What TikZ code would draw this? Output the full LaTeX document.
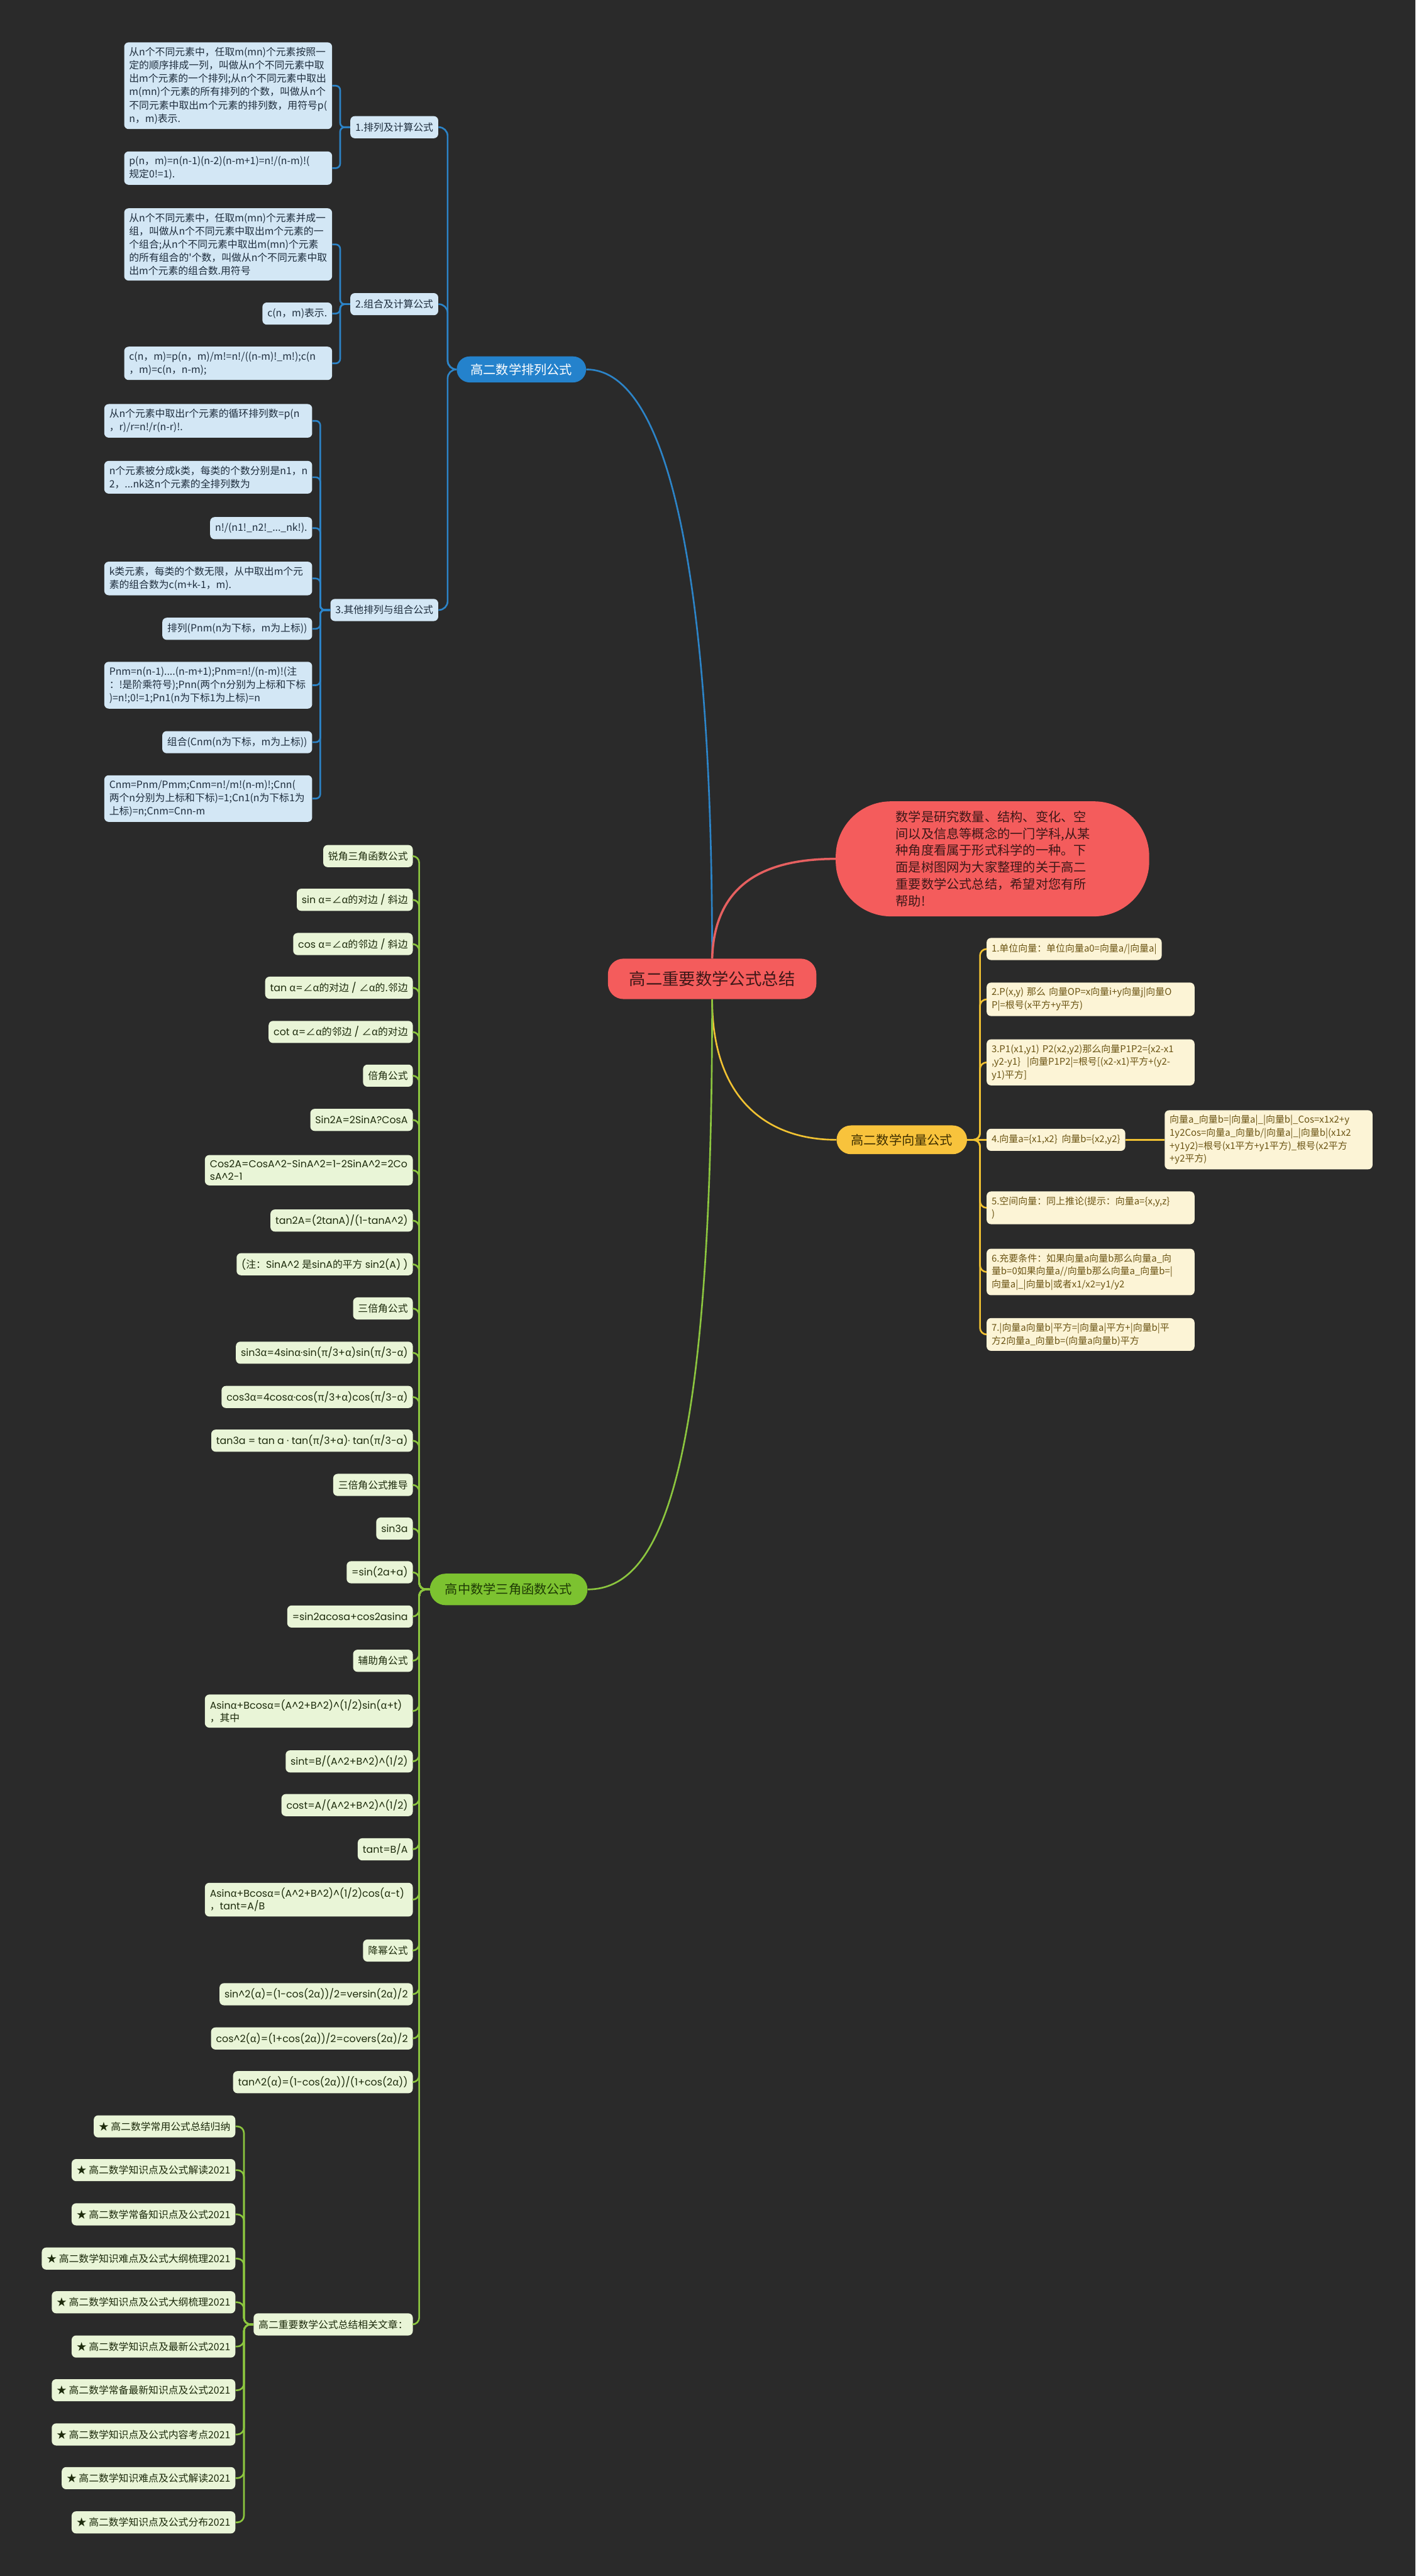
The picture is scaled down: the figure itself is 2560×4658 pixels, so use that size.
\documentclass[tikz,border=0pt]{standalone}
\usepackage{fontspec}
\setmainfont{Noto Sans CJK SC}
\newfontfamily\cjk{Noto Sans CJK SC}
\newfontfamily\pop{Poppins}
\newcommand\zh[1]{{\cjk #1}}
\newcommand\ca{\textasciicircum}
\newcommand\fsA{\fontsize{9pt}{12pt}\selectfont}
\newcommand\fsV{\fontsize{8.5pt}{11.75pt}\selectfont}
\newcommand\fsT{\pop\fontsize{9pt}{11.5pt}\selectfont}
\newcommand\fsM{\fontsize{11.5pt}{14pt}\selectfont}
\definecolor{bg}{HTML}{2A2A2A}
\definecolor{redfill}{HTML}{F45C5C}
\definecolor{redtext}{HTML}{3E1818}
\definecolor{redline}{HTML}{E66060}
\definecolor{bluemain}{HTML}{2482CC}
\definecolor{bluefill}{HTML}{D3E7F5}
\definecolor{bluetext}{HTML}{1E2D3D}
\definecolor{blueline}{HTML}{2C84C8}
\definecolor{ymain}{HTML}{F8C33C}
\definecolor{ymaintext}{HTML}{3D2E00}
\definecolor{yfill}{HTML}{FCF4D6}
\definecolor{ytext}{HTML}{6B5413}
\definecolor{yline}{HTML}{F1C232}
\definecolor{gmain}{HTML}{7CC230}
\definecolor{gmaintext}{HTML}{1E3A05}
\definecolor{gfill}{HTML}{E9F5D7}
\definecolor{gtext}{HTML}{1D2B0C}
\definecolor{gline}{HTML}{8CC63F}
\tikzset{
  lk/.style={line width=1.5pt},
  bl/.style={lk, draw=blueline, rounded corners=4pt},
  bll/.style={lk, draw=blueline, rounded corners=8pt},
  rl/.style={line width=2pt, draw=redline},
  yl/.style={lk, draw=yline, rounded corners=6pt},
  gl/.style={lk, draw=gline, rounded corners=6pt},
  leaf/.style={rounded corners=4pt, inner xsep=4.5pt, inner ysep=4.5pt, minimum height=20pt, align=left},
  bleaf/.style={leaf, fill=bluefill, text=bluetext, font=\fsA},
  yleaf/.style={leaf, fill=yfill, text=ytext, font=\fsV},
  gleaf/.style={leaf, fill=gfill, text=gtext, font=\fsT},
  sleaf/.style={leaf, fill=gfill, text=gtext, font=\fsA},
  tw/.style={text width=179pt},
  mainn/.style={inner sep=0pt, font=\fsM},
}
\begin{document}
\begin{tikzpicture}[x=0.5pt,y=-0.5pt]
\useasboundingbox (0,0) rectangle (2560,4658);
\fill[bg] (0,0) rectangle (2560,4658);

% root and description
\node[fill=redfill, text=redtext, minimum width=188.5pt, minimum height=36.5pt, rounded corners=14pt, inner sep=0pt, font=\fontsize{15pt}{18pt}\selectfont] (root) at (1288,1770) {高二重要数学公式总结};
\node[fill=redfill, text=redtext, minimum width=283.5pt, minimum height=104pt, rounded corners=50pt, inner sep=0pt, text width=175pt, align=left, font=\fontsize{11.5pt}{15.3pt}\selectfont] (desc) at (1795,1553) {数学是研究数量、结构、变化、空\\间以及信息等概念的一门学科,从某\\种角度看属于形式科学的一种。下\\面是树图网为大家整理的关于高二\\重要数学公式总结，希望对您有所\\帮助!};

% blue branch
\node[mainn, fill=bluemain, text=white, minimum width=117pt, minimum height=23.5pt, rounded corners=11.7pt] (bm) at (943,668) {高二数学排列公式};
\node[bleaf, anchor=east] (s1) at (793,230) {1.排列及计算公式};
\node[bleaf, anchor=east] (s2) at (793,550) {2.组合及计算公式};
\node[bleaf, anchor=east] (s3) at (793,1103) {3.其他排列与组合公式};

\node[bleaf, tw, anchor=east] (a1) at (601,155) {从n个不同元素中，任取m(mn)个元素按照一\\定的顺序排成一列，叫做从n个不同元素中取\\出m个元素的一个排列;从n个不同元素中取出\\m(mn)个元素的所有排列的个数，叫做从n个\\不同元素中取出m个元素的排列数，用符号p(\\n，m)表示.};
\node[bleaf, tw, anchor=east] (a2) at (601,304) {p(n，m)=n(n-1)(n-2)(n-m+1)=n!/(n-m)!(\\规定0!=1).};
\node[bleaf, tw, anchor=east] (b1) at (601,442) {从n个不同元素中，任取m(mn)个元素并成一\\组，叫做从n个不同元素中取出m个元素的一\\个组合;从n个不同元素中取出m(mn)个元素\\的所有组合的\textquotesingle 个数，叫做从n个不同元素中取\\出m个元素的组合数.用符号};
\node[bleaf, anchor=east] (b2) at (601,567) {c(n，m)表示.};
\node[bleaf, tw, anchor=east] (b3) at (601,657) {c(n，m)=p(n，m)/m!=n!/((n-m)!\_m!);c(n\\，m)=c(n，n-m);};

\node[bleaf, tw, anchor=east] (c1) at (565,761) {从n个元素中取出r个元素的循环排列数=p(n\\，r)/r=n!/r(n-r)!.};
\node[bleaf, tw, anchor=east] (c2) at (565,863) {n个元素被分成k类，每类的个数分别是n1，n\\2，...nk这n个元素的全排列数为};
\node[bleaf, anchor=east] (c3) at (565,955) {n!/(n1!\_n2!\_...\_nk!).};
\node[bleaf, tw, anchor=east] (c4) at (565,1046) {k类元素，每类的个数无限，从中取出m个元\\素的组合数为c(m+k-1，m).};
\node[bleaf, anchor=east] (c5) at (565,1137) {排列(Pnm(n为下标，m为上标))};
\node[bleaf, tw, anchor=east] (c6) at (565,1239) {Pnm=n(n-1)....(n-m+1);Pnm=n!/(n-m)!(注\\：!是阶乘符号);Pnn(两个n分别为上标和下标\\)=n!;0!=1;Pn1(n为下标1为上标)=n};
\node[bleaf, anchor=east] (c7) at (565,1342) {组合(Cnm(n为下标，m为上标))};
\node[bleaf, tw, anchor=east] (c8) at (565,1444) {Cnm=Pnm/Pmm;Cnm=n!/m!(n-m)!;Cnn(\\两个n分别为上标和下标)=1;Cn1(n为下标1为\\上标)=n;Cnm=Cnn-m};

% vector branch
\node[mainn, fill=ymain, text=ymaintext, minimum width=118pt, minimum height=26pt, rounded corners=13pt] (vm) at (1631,2061) {高二数学向量公式};
\node[yleaf, anchor=west] (v1) at (1784,1716) {1.单位向量：单位向量a0=向量a/|向量a|};
\node[yleaf, tw, anchor=west] (v2) at (1784,1807) {2.P(x,y)~那么~向量OP=x向量i+y向量j|向量O\\P|=根号(x平方+y平方)};
\node[yleaf, tw, anchor=west] (v3) at (1784,1921) {3.P1(x1,y1)~P2(x2,y2)那么向量P1P2=\{x2-x1\\,y2-y1\}~~|向量P1P2|=根号[(x2-x1)平方+(y2-\\y1)平方]};
\node[yleaf, anchor=west] (v4) at (1784,2061) {4.向量a=\{x1,x2\}~~向量b=\{x2,y2\}};
\node[yleaf, tw, anchor=west] (v4c) at (2106,2061) {向量a\_向量b=|向量a|\_|向量b|\_Cos=x1x2+y\\1y2Cos=向量a\_向量b/|向量a|\_|向量b|(x1x2\\+y1y2)=根号(x1平方+y1平方)\_根号(x2平方\\+y2平方)};
\node[yleaf, tw, anchor=west] (v5) at (1784,2184) {5.空间向量：同上推论(提示：向量a=\{x,y,z\}\\)};
\node[yleaf, tw, anchor=west] (v6) at (1784,2300) {6.充要条件：如果向量a向量b那么向量a\_向\\量b=0如果向量a//向量b那么向量a\_向量b=|\\向量a|\_|向量b|或者x1/x2=y1/y2};
\node[yleaf, tw, anchor=west] (v7) at (1784,2413) {7.|向量a向量b|平方=|向量a|平方+|向量b|平\\方2向量a\_向量b=(向量a向量b)平方};

% trig branch
\node[mainn, fill=gmain, text=gmaintext, minimum width=142.5pt, minimum height=28.5pt, rounded corners=14.2pt] (tm) at (920,2874) {高中数学三角函数公式};
\node[gleaf, anchor=east] (t1) at (747,1548) {\zh{锐角三角函数公式}};
\node[gleaf, anchor=east] (t2) at (747,1627) {sin \zh{α}=\zh{∠α的对边} / \zh{斜边}};
\node[gleaf, anchor=east] (t3) at (747,1707) {cos \zh{α}=\zh{∠α的邻边} / \zh{斜边}};
\node[gleaf, anchor=east] (t4) at (747,1786) {tan \zh{α}=\zh{∠α的对边} / \zh{∠α的.邻边}};
\node[gleaf, anchor=east] (t5) at (747,1866) {cot \zh{α}=\zh{∠α的邻边} / \zh{∠α的对边}};
\node[gleaf, anchor=east] (t6) at (747,1945) {\zh{倍角公式}};
\node[gleaf, anchor=east] (t7) at (747,2025) {Sin2A=2SinA?CosA};
\node[gleaf, tw, anchor=east] (t8) at (747,2116) {Cos2A=CosA\ca2-SinA\ca2=1-2SinA\ca2=2Co\\sA\ca2-1};
\node[gleaf, anchor=east] (t9) at (747,2207) {tan2A=(2tanA)/(1-tanA\ca2)};
\node[gleaf, anchor=east] (t10) at (747,2286) {(\zh{注：}SinA\ca2 \zh{是}sinA\zh{的平方} sin2(A) )};
\node[gleaf, anchor=east] (t11) at (747,2366) {\zh{三倍角公式}};
\node[gleaf, anchor=east] (t12) at (747,2446) {sin3\zh{α}=4sin\zh{α}·sin(\zh{π}/3+\zh{α})sin(\zh{π}/3-\zh{α})};
\node[gleaf, anchor=east] (t13) at (747,2526) {cos3\zh{α}=4cos\zh{α}·cos(\zh{π}/3+\zh{α})cos(\zh{π}/3-\zh{α})};
\node[gleaf, anchor=east] (t14) at (747,2605) {tan3a = tan a · tan(\zh{π}/3+a)· tan(\zh{π}/3-a)};
\node[gleaf, anchor=east] (t15) at (747,2685) {\zh{三倍角公式推导}};
\node[gleaf, anchor=east] (t16) at (747,2764) {sin3a};
\node[gleaf, anchor=east] (t17) at (747,2843) {=sin(2a+a)};
\node[gleaf, anchor=east] (t18) at (747,2923) {=sin2acosa+cos2asina};
\node[gleaf, anchor=east] (t19) at (747,3003) {\zh{辅助角公式}};
\node[gleaf, tw, anchor=east] (t20) at (747,3094) {Asin\zh{α}+Bcos\zh{α}=(A\ca2+B\ca2)\ca(1/2)sin(\zh{α}+t)\\\zh{，其中}};
\node[gleaf, anchor=east] (t21) at (747,3185) {sint=B/(A\ca2+B\ca2)\ca(1/2)};
\node[gleaf, anchor=east] (t22) at (747,3264) {cost=A/(A\ca2+B\ca2)\ca(1/2)};
\node[gleaf, anchor=east] (t23) at (747,3344) {tant=B/A};
\node[gleaf, tw, anchor=east] (t24) at (747,3435) {Asin\zh{α}+Bcos\zh{α}=(A\ca2+B\ca2)\ca(1/2)cos(\zh{α}-t)\\\zh{，}tant=A/B};
\node[gleaf, anchor=east] (t25) at (747,3527) {\zh{降幂公式}};
\node[gleaf, anchor=east] (t26) at (747,3606) {sin\ca2(\zh{α})=(1-cos(2\zh{α}))/2=versin(2\zh{α})/2};
\node[gleaf, anchor=east] (t27) at (747,3686) {cos\ca2(\zh{α})=(1+cos(2\zh{α}))/2=covers(2\zh{α})/2};
\node[gleaf, anchor=east] (t28) at (747,3765) {tan\ca2(\zh{α})=(1-cos(2\zh{α}))/(1+cos(2\zh{α}))};
\node[sleaf, anchor=east] (rel) at (747,4203) {高二重要数学公式总结相关文章：};

\node[sleaf, anchor=east] (st1) at (426,3845) {★ 高二数学常用公式总结归纳};
\node[sleaf, anchor=east] (st2) at (426,3924) {★ 高二数学知识点及公式解读2021};
\node[sleaf, anchor=east] (st3) at (426,4004) {★ 高二数学常备知识点及公式2021};
\node[sleaf, anchor=east] (st4) at (426,4084) {★ 高二数学知识难点及公式大纲梳理2021};
\node[sleaf, anchor=east] (st5) at (426,4163) {★ 高二数学知识点及公式大纲梳理2021};
\node[sleaf, anchor=east] (st6) at (426,4243) {★ 高二数学知识点及最新公式2021};
\node[sleaf, anchor=east] (st7) at (426,4322) {★ 高二数学常备最新知识点及公式2021};
\node[sleaf, anchor=east] (st8) at (426,4402) {★ 高二数学知识点及公式内容考点2021};
\node[sleaf, anchor=east] (st9) at (426,4481) {★ 高二数学知识难点及公式解读2021};
\node[sleaf, anchor=east] (st10) at (426,4561) {★ 高二数学知识点及公式分布2021};

% connectors from root
\draw[bl] (root.north) .. controls (1288,1000) and (1200,668) .. (bm.east);
\draw[rl] (root.north) .. controls (1292,1600) and (1380,1553) .. (desc.west);
\draw[yl] (root.south) .. controls (1288,1990) and (1390,2061) .. (vm.west);
\draw[gl] (root.south) .. controls (1288,2650) and (1200,2874) .. (tm.east);

% blue connectors
\foreach \s in {s1,s2,s3} {\draw[bll] (bm.west) -- ++(-16,0) |- (\s.east);}
\foreach \c in {a1,a2} {\draw[bl] (s1.west) -- ++(-18,0) |- (\c.east);}
\foreach \c in {b1,b2,b3} {\draw[bl] (s2.west) -- ++(-18,0) |- (\c.east);}
\foreach \c in {c1,c2,c3,c4,c5,c6,c7,c8} {\draw[bl] (s3.west) -- ++(-18,0) |- (\c.east);}

% vector connectors
\foreach \c in {v1,v2,v3,v5,v6,v7} {\draw[yl] (vm.east) -- ++(23,0) |- (\c.west);}
\draw[yl] (vm.east) -- (v4.west);
\draw[yl] (v4.east) -- (v4c.west);

% trig connectors
\foreach \i in {1,...,28} {\draw[gl] (tm.west) -- ++(-19,0) |- (t\i.east);}
\draw[gl] (tm.west) -- ++(-19,0) |- (rel.east);
\foreach \i in {1,...,10} {\draw[gl] (rel.west) -- ++(-17,0) |- (st\i.east);}
\end{tikzpicture}
\end{document}
